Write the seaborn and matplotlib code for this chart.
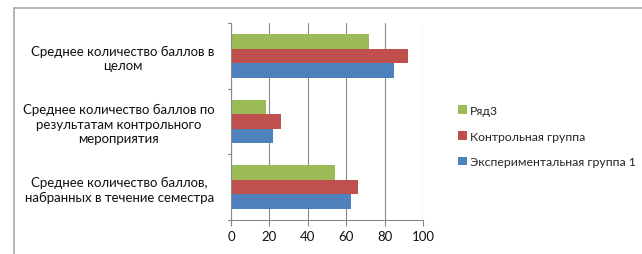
import numpy as np
import pandas as pd
import matplotlib
matplotlib.use("Agg")
import matplotlib.pyplot as plt
import seaborn as sns
from matplotlib.lines import Line2D
from matplotlib.patches import Patch

# ===== данные =====
categories = [
    "Среднее количество баллов в\nцелом",
    "Среднее количество баллов по\nрезультатам контрольного\nмероприятия",
    "Среднее количество баллов,\nнабранных в течение семестра",
]
series = ["Ряд3", "Контрольная группа", "Экспериментальная группа 1"]
ryad3 = [72, 18, 54]
control = [92, 26, 66]
experiment = [85, 22, 62.6]
x_ticks = [0, 20, 40, 60, 80, 100]

colors = {
    "Ряд3": "#9BBB59",
    "Контрольная группа": "#C0504D",
    "Экспериментальная группа 1": "#4F81BD",
}

df = pd.DataFrame({
    "cat": categories * 3,
    "series": [series[0]] * 3 + [series[1]] * 3 + [series[2]] * 3,
    "value": ryad3 + control + experiment,
})

sns.set_style("white")
plt.rcParams["font.family"] = ["Lato", "DejaVu Sans"]

fig = plt.figure(figsize=(6.42, 2.55), dpi=100)
ax = fig.add_axes([231 / 642, 1 - 221 / 255, (423 - 231) / 642, (221 - 24) / 255])

sns.barplot(
    data=df, y="cat", x="value", hue="series",
    order=categories, hue_order=series, palette=colors,
    orient="h", width=0.66, dodge=True, ax=ax, legend=False,
    saturation=1, edgecolor="none",
)

ax.set_xlim(0, 100)
ax.set_ylim(2.5, -0.5)
ax.set_xticks(x_ticks)
ax.set_xticklabels([str(t) for t in x_ticks], fontsize=9.5, color="#111111")
ax.set_xlabel("")
ax.set_ylabel("")

# категории: подписи по центру слотов, засечки на границах
ax.set_yticks([0, 1, 2])
ax.set_yticklabels(categories, fontsize=9.5, color="#111111",
                   multialignment="center", linespacing=1.25)
ax.tick_params(axis="y", length=0, pad=12)
for b in [-0.5, 0.5, 1.5, 2.5]:
    ax.plot([-1.8, 0], [b, b], color="#888888", lw=0.8, clip_on=False)
ax.tick_params(axis="x", length=4, color="#888888", pad=3, bottom=True, direction="out")

ax.grid(axis="x", color="#888888", lw=0.8)
ax.set_axisbelow(True)
for s in ["top", "right"]:
    ax.spines[s].set_visible(False)
ax.spines["left"].set_color("#888888")
ax.spines["bottom"].set_color("#888888")
ax.spines["left"].set_linewidth(0.8)
ax.spines["bottom"].set_linewidth(0.8)

# легенда
handles = [Patch(facecolor=colors[s], edgecolor="none") for s in series]
fig.legend(handles, series, loc="upper left",
           bbox_to_anchor=(447 / 642, 1 - 95 / 255), frameon=False,
           fontsize=8.8, handlelength=0.7, handleheight=0.7,
           handletextpad=0.3, labelspacing=1.2)

# рамка
fig.add_artist(Line2D([13.5 / 642, 1], [1 - 8.5 / 255, 1 - 8.5 / 255],
                      color="#aaaaaa", lw=1.2, transform=fig.transFigure))
fig.add_artist(Line2D([13.5 / 642, 13.5 / 642], [0, 1 - 8.5 / 255],
                      color="#aaaaaa", lw=1.2, transform=fig.transFigure))

fig.savefig("out.png", dpi=100)
